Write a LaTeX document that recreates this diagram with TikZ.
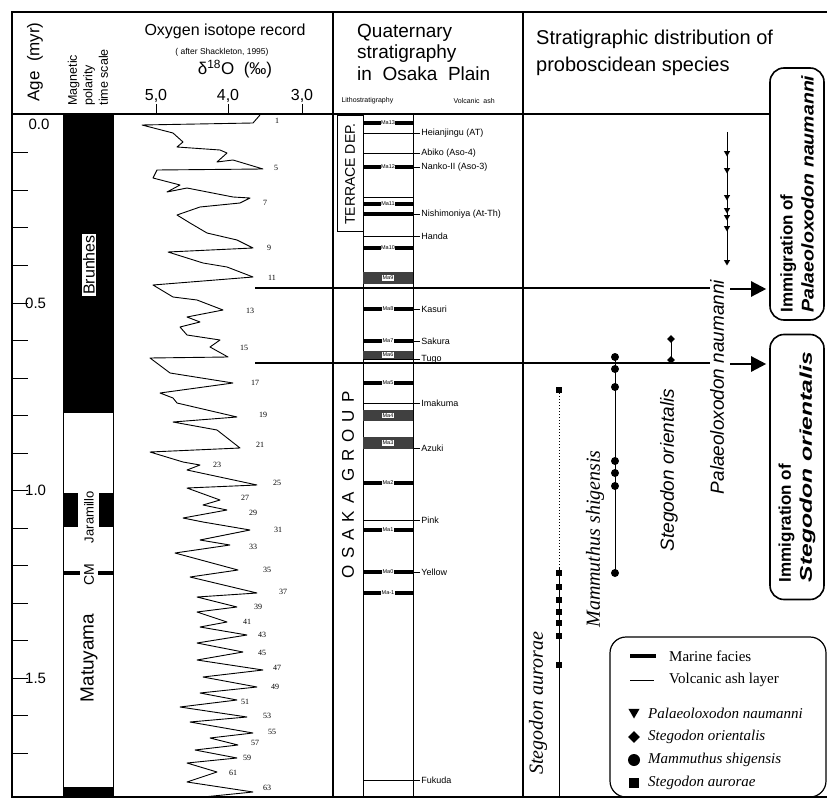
\documentclass[tikz,border=0pt]{standalone}
\usepackage{fontspec}
\setmainfont{Liberation Sans}
\newfontfamily\timesfont{Liberation Serif}
\usetikzlibrary{positioning,arrows.meta,shapes.geometric}

\newcommand{\sz}[2]{\fontsize{#1}{#2}\selectfont}

\tikzset{
  frameline/.style={line width=1.4pt},
  colline/.style={line width=1pt},
  marine/.style={line width=3.8pt},
  ashline/.style={line width=0.8pt},
  block/.style={fill=black!75},
  malabel/.style={font=\sz{5.5}{6}, fill=white, inner sep=0.6pt},
  ashlabel/.style={anchor=west, font=\sz{9}{10}, inner sep=1pt},
  peaklbl/.style={font=\timesfont\sz{8}{9}, inner sep=0pt},
  event/.style={line width=2.4pt},
  evarrow/.style={line width=2.4pt, -{Triangle[length=15pt,width=15pt]}, shorten >=3pt},
  immbox/.style={draw, line width=1.6pt, rounded corners=14pt, rotate=90, minimum height=54pt,
    align=left, inner sep=2pt, font=\sz{17}{21}\bfseries},
  rangeline/.style={line width=0.9pt},
  sptag/.style={rotate=90, font=\sz{19}{21}\itshape, inner sep=0pt},
  sptagserif/.style={rotate=90, font=\timesfont\sz{20}{22}\itshape, inner sep=0pt},
  pnau/.style={regular polygon, regular polygon sides=3, shape border rotate=180, fill, inner sep=0pt, minimum size=7pt},
  sori/.style={diamond, fill, inner sep=0pt, minimum size=8pt},
  mshi/.style={circle, fill, inner sep=0pt, minimum size=8pt},
  saur/.style={rectangle, fill, inner sep=0pt, minimum size=6pt},
  magtag/.style={rotate=90, inner sep=1pt},
  legtext/.style={anchor=west, font=\timesfont\sz{15}{17}, inner sep=0pt},
}

\begin{document}
\begin{tikzpicture}[x=1pt,y=-1pt]
\useasboundingbox (0,0) rectangle (827,802);

% frame and columns
\draw[frameline] (827,12) -- (12,12) -- (12,797) -- (827,797);
\draw[frameline] (12,114) -- (770,114);
\draw[frameline] (333,12) -- (333,797);
\draw[frameline] (523,12) -- (523,797);
\draw[colline] (63,114) -- (63,797);
\draw[colline] (113,114) -- (113,797);

% headers
\node[rotate=90, font=\sz{17}{19}] (agehead) at (35,62) {Age\ \ (myr)};
\node[rotate=90, anchor=west, align=left, font=\sz{12.5}{15.5}] (maghead) at (88,109) {Magnetic\\polarity\\time scale};
\node[font=\sz{16}{18}] (isohead) at (225,31) {Oxygen isotope record};
\node[font=\sz{8.5}{10}] (isosrc) at (222,52) {( after Shackleton, 1995)};
\node[font=\sz{17}{19}] (isounit) at (235,69) {δ\textsuperscript{18}O\ \ (‰)};
\foreach \v/\x in {5/156, 4/228, 3/302} {
  \draw (\x,104) -- (\x,114);
  \node[font=\sz{16}{18}] (scale\v) at (\x,96) {\v,0};
}
\node[anchor=base west, font=\sz{19}{21}, inner sep=0pt] (qhead1) at (357,38) {Quaternary};
\node[anchor=base west, font=\sz{19}{21}, inner sep=0pt] (qhead2) at (357,59) {stratigraphy};
\node[anchor=base west, font=\sz{19}{21}, inner sep=0pt] (qhead3) at (357,81) {in\ \ Osaka\ \ Plain};
\node[anchor=west, font=\sz{7}{8}] (lithohead) at (338,101) {Lithostratigraphy};
\node[anchor=west, font=\sz{7}{8}] (ashhead) at (450,101) {Volcanic\ \ ash};
\node[anchor=base west, font=\sz{20}{22}, inner sep=0pt] (shead1) at (536,45) {Stratigraphic distribution of};
\node[anchor=base west, font=\sz{20}{22}, inner sep=0pt] (shead2) at (536,72) {proboscidean species};

% age axis
\foreach \a in {1,...,17} \draw[colline] (12,{115.5+37.5*\a}) -- ++(16,0);
\node[font=\sz{15}{17}] (age0) at (39,124) {0.0};
\foreach \a/\t in {5/0.5, 10/1.0, 15/1.5}
  \node[anchor=west, font=\sz{15}{17}, inner sep=0pt] (age\a) at (25,{115.5+37.5*\a}) {\t};

% magnetic polarity
\fill (63,114) rectangle (113,413);
\node[magtag, draw, fill=white, line width=0.8pt, inner sep=2pt, font=\sz{16}{18}] (brunhes) at (89,265) {Brunhes};
\fill (63,493) rectangle (78,527);
\fill (99,493) rectangle (113,527);
\node[magtag, font=\sz{13}{15}] (jaramillo) at (89,517) {Jaramillo};
\fill (63,571) rectangle (80,575);
\fill (98,571) rectangle (113,575);
\node[magtag, font=\sz{14}{16}] (cobb) at (89,575) {CM};
\node[magtag, font=\sz{19}{21}] (matuyama) at (89,658) {Matuyama};
\fill (63,787) rectangle (113,797);

% oxygen isotope curve
\draw[line width=0.9pt, line join=round] plot coordinates {
 (260,115) (253,123) (142,125) (173,133) (183,142) (177,147) (220,150) (227,153) (217,162)
 (233,160) (263,169) (157,170) (153,178) (180,185) (167,192) (187,188) (233,197) (250,198)
 (240,203) (200,207) (177,215) (190,223) (207,233) (237,240) (253,248) (168,252) (203,263)
 (227,267) (253,277) (153,285) (173,297) (197,300) (223,310) (187,317) (200,322) (180,327)
 (187,335) (220,340) (210,347) (228,357) (150,358) (170,373) (233,383) (160,393) (173,398)
 (177,403) (237,417) (173,422) (217,430) (240,448) (150,452) (183,462) (200,465) (187,470)
 (257,485) (187,488) (220,500) (203,505) (227,510) (183,518) (203,522) (250,530) (200,540)
 (230,545) (175,553) (238,570) (190,577) (257,593) (197,597) (237,607) (197,612) (227,622)
 (200,627) (247,635) (197,643) (243,652) (197,660) (263,670) (203,677) (257,687) (200,693)
 (237,700) (180,707) (247,717) (190,722) (253,733) (210,738) (238,745) (195,750) (237,758)
 (187,763) (217,772) (187,782) (253,792) (203,797)};
\foreach \n/\x/\y in {1/277/121, 5/276/168, 7/265/203, 9/269/248, 11/272/278, 13/250/311,
  15/244/348, 17/255/383, 19/263/415, 21/260/445, 23/217/465, 25/277/483, 27/245/498,
  29/253/513, 31/278/530, 33/253/547, 35/267/570, 37/283/592, 39/258/607, 41/247/622,
  43/262/635, 45/262/653, 47/277/668, 49/275/687, 51/245/702, 53/267/716, 55/272/732,
  57/255/743, 59/247/758, 61/233/773, 63/267/788}
  \node[peaklbl] (mis\n) at (\x,\y) {\n};

% lithostratigraphy
\draw[colline] (337,116) rectangle (363,232);
\node[rotate=90, font=\sz{14}{16}] (terrace) at (350,174) {TERRACE DEP.};
\node[rotate=90, font={\sz{17}{19}\addfontfeature{LetterSpace=40}}] (osaka) at (348,485) {OSAKA GROUP};
\draw[colline] (363,114) -- (363,797);
\draw[colline] (413,114) -- (413,797);
\foreach \y/\t in {133/{Heianjingu (AT)}, 153/{Abiko (Aso-4)}, 167/{Nanko-II (Aso-3)},
  214/{Nishimoniya (At-Th)}, 236/{Handa}, 309/{Kasuri}, 341/{Sakura}, 359/{Tugo},
  403/{Imakuma}, 448/{Azuki}, 520/{Pink}, 572/{Yellow}, 780/{Fukuda}}
  \draw[ashline] (363,\y) -- (420,\y) node[ashlabel] (ash\y) {\t};
\draw[ashline] (363,197) -- (413,197);
\draw[marine] (363,214) -- (413,214);
\foreach \y/\t in {123/Ma13, 167/Ma12, 204/Ma11, 248/Ma10, 309/Ma8, 341/Ma7, 383/Ma5,
  483/Ma2, 530/Ma1, 572/Ma0, 593/Ma-1}
  \draw[marine] (363,\y) -- (413,\y) node[malabel, midway] (layer\y) {\t};
\foreach \ya/\yb/\t in {272/284/Ma9, 351/359/Ma6, 410/421/Ma4, 437/449/Ma3} {
  \fill[block] (363,\ya) rectangle (413,\yb);
  \node[malabel] (block\ya) at (388,{(\ya+\yb)/2}) {\t};
}

% immigration events
\draw[event] (255,288) -- (710,288);
\draw[event] (255,363) -- (710,363);
\node[immbox, minimum width=252pt] (immP) at (797,194)
  {Immigration of\\\scalebox{1.15}[1]{\itshape Palaeoloxodon naumanni}};
\node[immbox, minimum width=265pt] (immS) at (797,467)
  {Immigration of\\\scalebox{1.45}[1]{\itshape Stegodon orientalis}};
\coordinate (arrP) at (730,289);
\coordinate (arrS) at (730,364);
\draw[evarrow] (arrP) -- (arrP -| immP.north);
\draw[evarrow] (arrS) -- (arrS -| immS.north);

% species ranges
\draw[rangeline] (727,132) -- (727,263);
\foreach \y in {153,170,197,210,217,228,262} \node[pnau] (pn\y) at (727,\y) {};
\node[sptag] (pnlabel) at (717,387) {Palaeoloxodon naumanni};

\draw[rangeline] (671,339) -- (671,360);
\foreach \y in {339,360} \node[sori] (so\y) at (671,\y) {};
\node[sptag] (solabel) at (669,470) {Stegodon orientalis};

\draw[rangeline] (615,357) -- (615,573);
\foreach \y in {357,369,387,461,473,486,573} \node[mshi] (ms\y) at (615,\y) {};
\node[sptagserif] (mslabel) at (595,539) {Mammuthus shigensis};

\node[saur] (sa390) at (559,390) {};
\draw[dotted, line width=1pt] (sa390) -- (559,568);
\draw[rangeline] (559,568) -- (559,797);
\foreach \y in {573,587,600,612,623,636,665} \node[saur] (sa\y) at (559,\y) {};
\node[sptagserif] (salabel) at (538,703) {Stegodon aurorae};

% legend
\node[draw, line width=1.2pt, rounded corners=16pt, minimum width=216pt, minimum height=160pt] (legend) at (718,717) {};
\draw[marine] (630,656) -- (656,656);
\node[legtext] (lgmarine) at (669,656) {Marine facies};
\draw[ashline] (630,680) -- (654,680);
\node[legtext] (lgash) at (669,680) {Volcanic ash layer};
\node[pnau, minimum size=13pt] (lgpn) at (634,712) {};
\node[legtext, font=\timesfont\sz{15}{17}\itshape] (lgpntext) at (648,713) {Palaeoloxodon naumanni};
\node[sori, minimum size=12pt] (lgso) at (634,737) {};
\node[legtext, font=\timesfont\sz{15}{17}\itshape] (lgsotext) at (648,737) {Stegodon orientalis};
\node[mshi, minimum size=12pt] (lgms) at (634,760) {};
\node[legtext, font=\timesfont\sz{15}{17}\itshape] (lgmstext) at (648,760) {Mammuthus shigensis};
\node[saur, minimum size=10pt] (lgsa) at (634,783) {};
\node[legtext, font=\timesfont\sz{15}{17}\itshape] (lgsatext) at (648,783) {Stegodon aurorae};
\end{tikzpicture}
\end{document}
